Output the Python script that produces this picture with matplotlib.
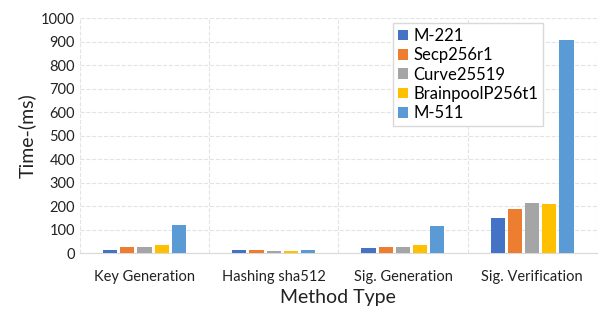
import matplotlib.pyplot as plt
import numpy as np

plt.rcParams['font.family'] = ['Lato', 'DejaVu Sans']

# categories on the x axis
methods = ['Key Generation', 'Hashing sha512', 'Sig. Generation', 'Sig. Verification']

# timings per curve (ms)
m221 = [12, 15, 22, 150]
secp256r1 = [27, 12, 25, 187]
curve25519 = [28, 11, 25, 215]
brainpool = [33, 8, 33, 208]
m511 = [120, 13, 117, 905]

series = [m221, secp256r1, curve25519, brainpool, m511]
names = ['M-221', 'Secp256r1', 'Curve25519', 'BrainpoolP256t1', 'M-511']
colors = ['#4472C4', '#ED7D31', '#A5A5A5', '#FFC000', '#5B9BD5']

fig = plt.figure(figsize=(6.01, 3.11), dpi=100)
ax = fig.add_axes([0.133, 0.186, 0.860, 0.756])

x = np.arange(len(methods))
step = 0.133
for i, (vals, name, c) in enumerate(zip(series, names, colors)):
    ax.bar(x + (i - 2) * step, vals, width=0.11, color=c, label=name, zorder=3)

ax.set_xlim(-0.5, 3.5)
ax.set_ylim(0, 1000)
ax.set_yticks(range(0, 1001, 100))
ax.set_xticks(x)
ax.set_xticklabels(methods)
ax.set_xticks(np.arange(-0.5, 3.6, 1), minor=True)
ax.tick_params(axis='x', which='both', length=0, labelsize=10.5, pad=12, colors='#222222')
ax.tick_params(axis='y', length=0, labelsize=10.5, colors='#222222')

ax.grid(axis='y', color='#e3e3e3', linestyle='--', linewidth=0.8, zorder=0)
ax.grid(axis='x', which='minor', color='#e3e3e3', linestyle='--', linewidth=0.8, zorder=0)
ax.grid(axis='x', which='major', visible=False)

for s in ['top', 'right', 'left']:
    ax.spines[s].set_visible(False)
ax.spines['bottom'].set_color('#d9d9d9')

ax.set_xlabel('Method Type', fontsize=14, color='#222222')
ax.set_ylabel('Time-(ms)', fontsize=14, color='#222222')

leg = ax.legend(loc='upper left', bbox_to_anchor=(0.59, 1.015), fontsize=12,
                handlelength=0.6, handleheight=0.6, handletextpad=0.3,
                labelspacing=0.2, borderpad=0.3, fancybox=False, framealpha=1)
leg.get_frame().set_edgecolor('#d9d9d9')

plt.savefig('out.png', dpi=100)
